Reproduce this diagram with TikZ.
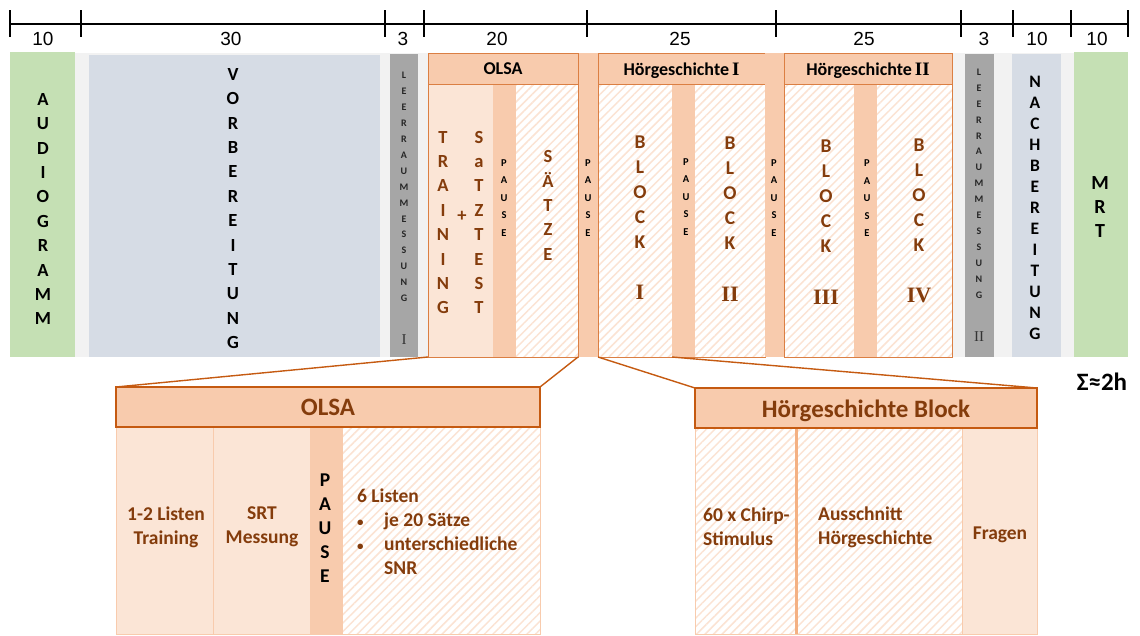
\documentclass[tikz,border=0pt]{standalone}
\usepackage{fontspec}
\setmainfont{Carlito}
\newfontfamily\romf{Liberation Serif}
\newfontfamily\numf{Liberation Sans}
\usetikzlibrary{fit,patterns.meta}
\definecolor{grn}{HTML}{C5E0B4}
\definecolor{blu}{HTML}{D6DCE5}
\definecolor{gry}{HTML}{A6A6A6}
\definecolor{bgg}{HTML}{F2F2F2}
\definecolor{org}{HTML}{F8CBAD}
\definecolor{lorg}{HTML}{FBE5D6}
\definecolor{edge}{HTML}{DB7F43}
\definecolor{dedge}{HTML}{C55A11}
\definecolor{brn}{HTML}{843C0C}
\definecolor{hatc}{HTML}{FBE3D3}
\definecolor{sepc}{HTML}{F4B183}
\newcommand\blt{\makebox[27pt][l]{\fontsize{13}{13}\selectfont•}}
\tikzset{bx/.style={inner sep=0pt,outer sep=0pt},
 hat/.style={preaction={fill=white},pattern={Lines[angle=45,distance=6pt,line width=1.5pt]},pattern color=hatc},
 hd/.style={bx,fill=org,draw=edge,line width=1pt},
 htx/.style={inner sep=0pt,font=\bfseries\fontsize{18}{20}\selectfont},
 bhd/.style={bx,fill=org,draw=dedge,line width=1.2pt},
 bhtx/.style={inner sep=0pt,text=brn,font=\bfseries\fontsize{25}{28}\selectfont},
 col/.style={bx,draw=org,line width=.8pt},
 vt/.style={inner sep=0pt,align=center,font=\bfseries\fontsize{18.5}{24.4}\selectfont},
 vs/.style={inner sep=0pt,align=center,font=\bfseries\fontsize{10}{15.9}\selectfont},
 vp/.style={inner sep=0pt,align=center,font=\bfseries\fontsize{10.5}{17.5}\selectfont},
 rn/.style={inner sep=0pt,text=brn,font=\romf\bfseries\fontsize{22}{24}\selectfont},
 bt/.style={inner sep=0pt,text=brn,font=\bfseries\fontsize{19.5}{24}\selectfont},
 num/.style={inner sep=0pt,font=\numf\fontsize{19}{20}\selectfont},
 tl/.style={line width=1.4pt},
 zl/.style={draw=dedge,line width=1.4pt}}
\begin{document}
\begin{tikzpicture}[x=1pt,y=-1pt]
\useasboundingbox (0,0) rectangle (1140,635);
% time line (minutes)
\draw[tl] (10,24) -- (1128,24);
\foreach \x in {10,81,385,424,587,776,961,1013,1071,1128}
 \draw[tl] (\x,10) -- (\x,37);
\foreach \x/\t [count=\i] in {43/10,231/30,403/3,497/20,680/25,864/25,984/3,1037/10,1097/10}
 \node[num] (t\i) at (\x,39) {\t};
% session strip
\node[bx,fill=bgg,fit={(10,53) (1128,357)}] (strip) {};
\node[bx,fill=grn,fit={(10,52) (75,357)}] (aud) {};
\node[bx,fill=blu,fit={(89,55) (380,357)}] (vor) {};
\node[bx,fill=gry,fit={(390,54) (418,357)}] (leer1) {};
\node[vt] (audt) at (43,209) {A\\U\\D\\I\\O\\G\\R\\A\\M\\M};
\node[vt] (vort) at (233,208.5) {V\\O\\R\\B\\E\\R\\E\\I\\T\\U\\N\\G};
\node[vs,text=black!85] (leer1t) at (404,187) {L\\E\\E\\R\\R\\A\\U\\M\\M\\E\\S\\S\\U\\N\\G};
\node[inner sep=0pt,text=black!80,font=\romf\fontsize{15}{18}\selectfont] (leer1n) at (404,340) {I};
% OLSA
\node[bx,fill=lorg,fit={(428,84) (493,357)}] (trn) {};
\node[bx,fill=org,fit={(493,84) (516,357)}] (p1) {};
\node[bx,hat,fit={(516,84) (578,357)}] (sae) {};
\node[hd,fit={(428,53) (578,84)}] (olsah) {};
\node[htx] (olsaht) at (503,68.5) {OLSA};
\node[bx,draw=edge,line width=1pt,fit={(428,53) (578,357)}] (olsa) {};
\node[vt,text=brn] (trnt) at (443,222.5) {T\\R\\A\\I\\N\\I\\N\\G};
\node[vt,text=brn] (plus) at (462,216) {+};
\node[vt,text=brn] (satt) at (479,222.5) {S\\a\\T\\Z\\T\\E\\S\\T};
\node[vp] (p1t) at (504,198) {P\\A\\U\\S\\E};
\node[vt,text=brn] (saet) at (548,205.5) {S\\Ä\\T\\Z\\E};
\node[bx,fill=org,fit={(579,53) (598,357)}] (p2) {};
\node[vp] (p2t) at (588,198) {P\\A\\U\\S\\E};
% Hoergeschichte I
\node[bx,hat,fit={(598,84) (672,357)}] (blki) {};
\node[bx,fill=org,fit={(672,84) (695,357)}] (p3) {};
\node[bx,hat,fit={(695,84) (765,357)}] (blkii) {};
\node[hd,fit={(598,53) (765,84)}] (hoeih) {};
\node[htx,anchor=base] (hoeiht) at (681.5,75) {Hörgeschichte\,{\romf\fontsize{19}{20}\selectfont I}};
\node[bx,draw=edge,line width=1pt,fit={(598,53) (765,357)}] (hoei) {};
\node[vt,text=brn,font=\bfseries\fontsize{19.5}{25}\selectfont] (blkit) at (640,192) {B\\L\\O\\C\\K};
\node[rn] (blkin) at (640,292) {I};
\node[vp] (p3t) at (686,197) {P\\A\\U\\S\\E};
\node[vt,text=brn,font=\bfseries\fontsize{19.5}{25}\selectfont] (blkiit) at (730,193.5) {B\\L\\O\\C\\K};
\node[rn] (blkiin) at (730,294) {II};
\node[bx,fill=org,fit={(765,53) (784,357)}] (p4) {};
\node[vp] (p4t) at (774,198) {P\\A\\U\\S\\E};
% Hoergeschichte II
\node[bx,hat,fit={(784,84) (854,357)}] (blkiii) {};
\node[bx,fill=org,fit={(854,84) (877,357)}] (p5) {};
\node[bx,hat,fit={(877,84) (952,357)}] (blkiv) {};
\node[hd,fit={(784,53) (952,84)}] (hoeiih) {};
\node[htx,anchor=base] (hoeiiht) at (868,75) {Hörgeschichte\,{\romf\fontsize{19}{20}\selectfont II}};
\node[bx,draw=edge,line width=1pt,fit={(784,53) (952,357)}] (hoeii) {};
\node[vt,text=brn,font=\bfseries\fontsize{19.5}{25}\selectfont] (blkiiit) at (826,196) {B\\L\\O\\C\\K};
\node[rn] (blkiiin) at (826,297) {III};
\node[vp] (p5t) at (867,198.5) {P\\A\\U\\S\\E};
\node[vt,text=brn,font=\bfseries\fontsize{19.5}{25}\selectfont] (blkivt) at (919,195) {B\\L\\O\\C\\K};
\node[rn] (blkivn) at (919,295) {IV};
% end of session
\node[bx,fill=gry,fit={(965,54) (994,357)}] (leer2) {};
\node[bx,fill=blu,fit={(1012,54) (1061,357)}] (nach) {};
\node[bx,fill=grn,fit={(1074,52) (1128,357)}] (mrt) {};
\node[vs,text=black!85] (leer2t) at (979,183.5) {L\\E\\E\\R\\R\\A\\U\\M\\M\\E\\S\\S\\U\\N\\G};
\node[inner sep=0pt,text=black!80,font=\romf\fontsize{15}{18}\selectfont] (leer2n) at (979,337) {II};
\node[vt,font=\bfseries\fontsize{17.5}{21}\selectfont] (nacht) at (1035,208) {N\\A\\C\\H\\B\\E\\R\\E\\I\\T\\U\\N\\G};
\node[vt,font=\bfseries\fontsize{20}{24}\selectfont] (mrtt) at (1100,207.5) {M\\R\\T};
\node[inner sep=0pt,font=\bfseries\fontsize{25}{28}\selectfont] (sum) at (1102,382) {Σ≈2h};
% OLSA in detail
\node[col,fill=lorg,fit={(116,427) (213,634)}] (oc1) {};
\node[col,fill=lorg,fit={(213,427) (310,634)}] (oc2) {};
\node[col,fill=org,fit={(310,427) (342,634)}] (oc3) {};
\node[col,hat,fit={(342,427) (540,634)}] (oc4) {};
\node[bhd,fit={(116,387) (540,427)}] (olsaz) {};
\node[bhtx] (olsazt) at (328,407) {OLSA};
\node[bt,align=center] (oc1t) at (166,527) {1-2 Listen\\Training};
\node[bt,align=center] (oc2t) at (262,527) {SRT\\Messung};
\node[bt,text=black,align=center] (oc3t) at (325,528) {P\\A\\U\\S\\E};
\node[bt,align=left,anchor=north west] (oc4t) at (357,488.5)
 {6 Listen\\\blt je 20 Sätze\\\blt unterschiedliche\\\hspace*{27pt}SNR};
% Hoergeschichte block in detail
\node[col,hat,fit={(695,428) (796,634)}] (hc1) {};
\node[col,hat,fit={(797,428) (962,634)}] (hc2) {};
\node[col,fill=lorg,fit={(962,428) (1037,634)}] (hc3) {};
\draw[sepc,line width=3pt] (hc1.north east) -- (hc1.south east);
\node[bhd,fit={(695,388) (1037,428)}] (hbz) {};
\node[bhtx,anchor=base] (hbzt) at (866,417) {Hörgeschichte Block};
\node[bt,align=left,anchor=west] (hc1t) at (703,527) {60 x Chirp-\\Stimulus};
\node[bt,align=left,anchor=west] (hc2t) at (818,527) {Ausschnitt\\Hörgeschichte};
\node[bt] (hc3t) at (1000,535) {Fragen};
% zoom lines
\draw[zl] (olsa.south west) -- (olsaz.north west);
\draw[zl] (olsa.south east) -- (olsaz.north east);
\draw[zl] (blki.south west) -- (hbz.north west);
\draw[zl] (blki.south east) -- (hbz.north east);
\end{tikzpicture}
\end{document}
